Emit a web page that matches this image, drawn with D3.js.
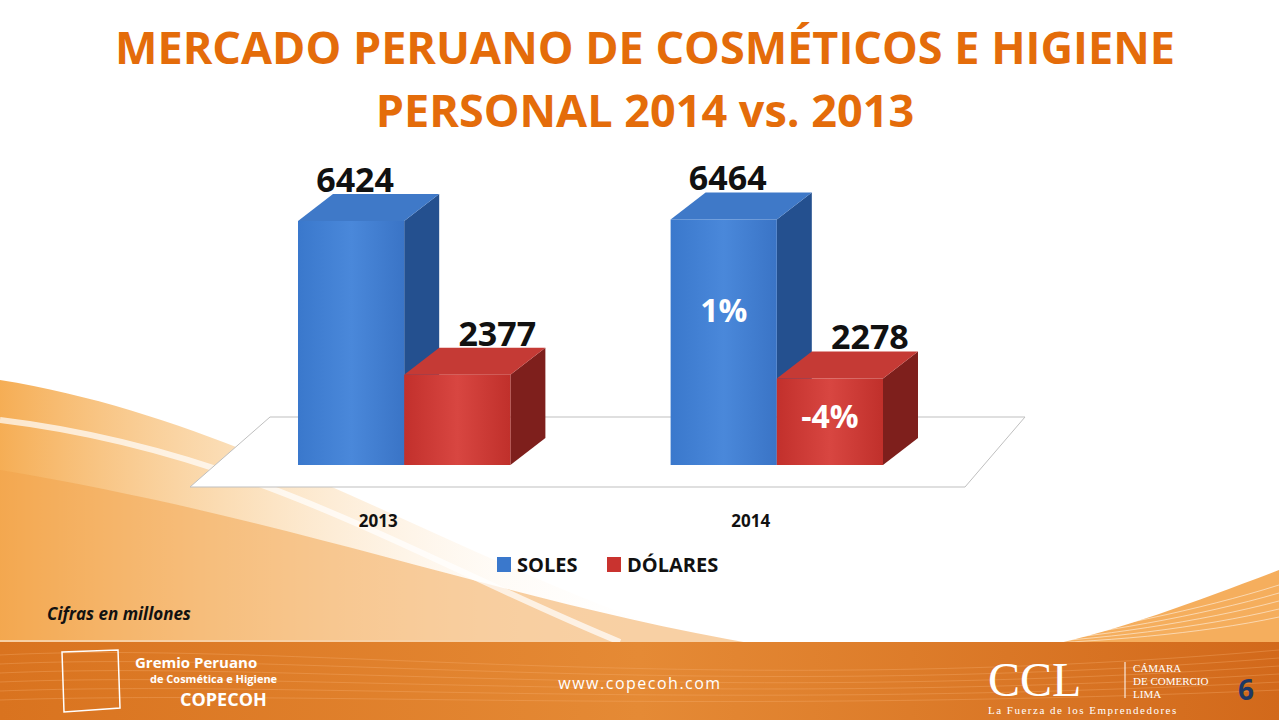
<!DOCTYPE html>
<html><head><meta charset="utf-8">
<script src="https://cdn.jsdelivr.net/npm/d3@7"></script>
<style>body{margin:0;overflow:hidden;background:#fff}svg{display:block;font-family:"Open Sans",Lato,sans-serif}</style>
</head><body><svg id="c" width="1279" height="720"></svg>
<script>
const years = ["2013","2014"];
const seriesNames = ["SOLES","DÓLARES"];
const soles = [6424, 6464];
const dolares = [2377, 2278];
const changeLabels = [["",""],["1%","-4%"]];

const svg = d3.select("#c");
const defs = svg.append("defs");
function lg(id, stops, x2=1,y2=0){const g=defs.append("linearGradient").attr("id",id).attr("x1",0).attr("y1",0).attr("x2",x2).attr("y2",y2);stops.forEach(s=>g.append("stop").attr("offset",s[0]).attr("stop-color",s[1]).attr("stop-opacity",s[2]??1));}
lg("swoosh",[[0,"#f39a2c",0.95],[0.35,"#f8c27a",0.6],[0.7,"#fde6c8",0.2],[1,"#fff",0]]);
lg("foot",[[0,"#d9731f"],[0.5,"#e58a35"],[1,"#d2691b"]]);
lg("blueF",[[0,"#3a78cc"],[0.5,"#4a88da"],[1,"#3a74c6"]]);
lg("redF",[[0,"#c2302c"],[0.5,"#d84641"],[1,"#c0302b"]]);

svg.append("path").attr("d","M0,380 C250,420 450,560 700,640 L0,640 Z").attr("fill","url(#swoosh)").attr("opacity",0.85);
svg.append("path").attr("d","M0,470 C300,520 500,600 760,645 L0,645 Z").attr("fill","#f2a24a").attr("opacity",0.5);
svg.append("path").attr("d","M1279,570 C1200,600 1120,630 1050,645 L1279,645 Z").attr("fill","#f29a35").attr("opacity",0.8);
for(let i=0;i<5;i++) svg.append("path").attr("d",`M1279,${585+i*8} C1200,${610+i*6} 1100,${630+i*3} 1000,645`).attr("stroke","#fff").attr("fill","none").attr("opacity",0.5);
svg.append("path").attr("d","M0,420 C250,450 420,560 620,642").attr("stroke","#fff").attr("stroke-width",6).attr("fill","none").attr("opacity",0.7);
svg.append("rect").attr("x",0).attr("y",642).attr("width",1279).attr("height",78).attr("fill","url(#foot)");
for(let i=0;i<6;i++) svg.append("path").attr("d",`M0,${655+i*9} C300,${640+i*10} 700,${700+i*3} 1279,${650+i*8}`).attr("stroke","#f5b070").attr("fill","none").attr("opacity",0.35);

const t = svg.append("text").attr("text-anchor","middle").attr("fill","#e46c0a").attr("font-weight","bold").attr("font-size",45);
t.append("tspan").attr("x",645).attr("y",64).text("MERCADO PERUANO DE COSMÉTICOS E HIGIENE");
t.append("tspan").attr("x",645).attr("y",127).text("PERSONAL 2014 vs. 2013");

const y = d3.scaleLinear().domain([0,6424]).range([465,221]);
const x0 = d3.scaleBand().domain(years).range([298,883]).paddingInner(0.43);
const x1 = d3.scaleBand().domain(seriesNames).range([0,x0.bandwidth()]);
const dx=35, dy=-27;

svg.append("path").attr("d","M190,487 L965,487 L1025,417 L270,417 Z").attr("fill","#fff").attr("stroke","#bfbfbf");

const colors = {SOLES:{front:"url(#blueF)",side:"#24508f",top:"#3f79c8"},"DÓLARES":{front:"url(#redF)",side:"#7e1f1c",top:"#c53a35"}};
const data = [];
years.forEach((yr,i)=>{data.push({yr,s:"SOLES",v:soles[i],lab:changeLabels[i][0]});data.push({yr,s:"DÓLARES",v:dolares[i],lab:changeLabels[i][1]});});
data.forEach(d=>{
  const xl = x0(d.yr)+x1(d.s), xr = xl+x1.bandwidth(), yt=y(d.v), yb=y(0);
  const c = colors[d.s];
  const g = svg.append("g");
  g.append("path").attr("d",`M${xr},${yb} L${xr+dx},${yb+dy} L${xr+dx},${yt+dy} L${xr},${yt} Z`).attr("fill",c.side);
  g.append("path").attr("d",`M${xl},${yt} L${xl+dx},${yt+dy} L${xr+dx},${yt+dy} L${xr},${yt} Z`).attr("fill",c.top);
  g.append("rect").attr("x",xl).attr("y",yt).attr("width",xr-xl).attr("height",yb-yt).attr("fill",c.front);
  svg.append("text").attr("x",(xl+xr)/2+(d.s==="SOLES"?4:40)).attr("y",yt+dy-2).attr("text-anchor","middle").attr("font-size",34).attr("font-weight","bold").attr("fill","#111").text(d.v);
  if(d.lab) svg.append("text").attr("x",(xl+xr)/2).attr("y",d.s==="SOLES"?322:428).attr("text-anchor","middle").attr("font-size",32).attr("font-weight","bold").attr("fill","#fff").text(d.lab);
});

svg.append("g").selectAll("text").data(years).join("text").attr("x",d=>x0(d)+x0.bandwidth()/2-26).attr("y",527).attr("text-anchor","middle").attr("font-size",17).attr("font-weight","bold").attr("fill","#111").text(d=>d);

const leg = svg.append("g").attr("transform","translate(497,552)");
seriesNames.forEach((s,i)=>{
  const gx = i===0?0:110;
  leg.append("rect").attr("x",gx).attr("y",5).attr("width",14).attr("height",15).attr("fill",i===0?"#3a78cc":"#c9332f");
  leg.append("text").attr("x",gx+20).attr("y",20).attr("font-size",20).attr("font-weight","bold").attr("fill","#111").text(s);
});

svg.append("text").attr("x",47).attr("y",620).attr("font-size",17).attr("font-style","italic").attr("font-weight","bold").attr("fill","#111").text("Cifras en millones");

svg.append("path").attr("d","M62,652 L118,650 L120,708 L64,712 Z").attr("fill","none").attr("stroke","#fff").attr("stroke-width",1.5);
svg.append("text").attr("x",135).attr("y",668).attr("font-size",15).attr("font-weight","bold").attr("fill","#fff").text("Gremio Peruano");
svg.append("text").attr("x",150).attr("y",683).attr("font-size",11).attr("font-weight","bold").attr("fill","#fff").text("de Cosmética e Higiene");
svg.append("text").attr("x",180).attr("y",706).attr("font-size",18).attr("font-weight","bold").attr("fill","#fff").text("COPECOH");
svg.append("text").attr("x",640).attr("y",689).attr("text-anchor","middle").attr("font-size",16).attr("letter-spacing",1.5).attr("fill","#fff").text("www.copecoh.com");
svg.append("text").attr("x",988).attr("y",696).attr("font-family","Liberation Serif, serif").attr("font-size",48).attr("fill","#fff").text("CCL");
svg.append("line").attr("x1",1125).attr("x2",1125).attr("y1",662).attr("y2",698).attr("stroke","#fff");
["CÁMARA","DE COMERCIO","LIMA"].forEach((s,i)=>svg.append("text").attr("x",1133).attr("y",672+i*13).attr("font-family","Liberation Serif, serif").attr("font-size",11).attr("fill","#fff").text(s));
svg.append("text").attr("x",988).attr("y",714).attr("font-family","Liberation Serif, serif").attr("font-size",11).attr("letter-spacing",1.5).attr("fill","#fff").text("La Fuerza de los Emprendedores");
svg.append("text").attr("x",1246).attr("y",700).attr("text-anchor","middle").attr("font-size",28).attr("font-weight","bold").attr("fill","#1f3864").text("6");
</script></body></html>
